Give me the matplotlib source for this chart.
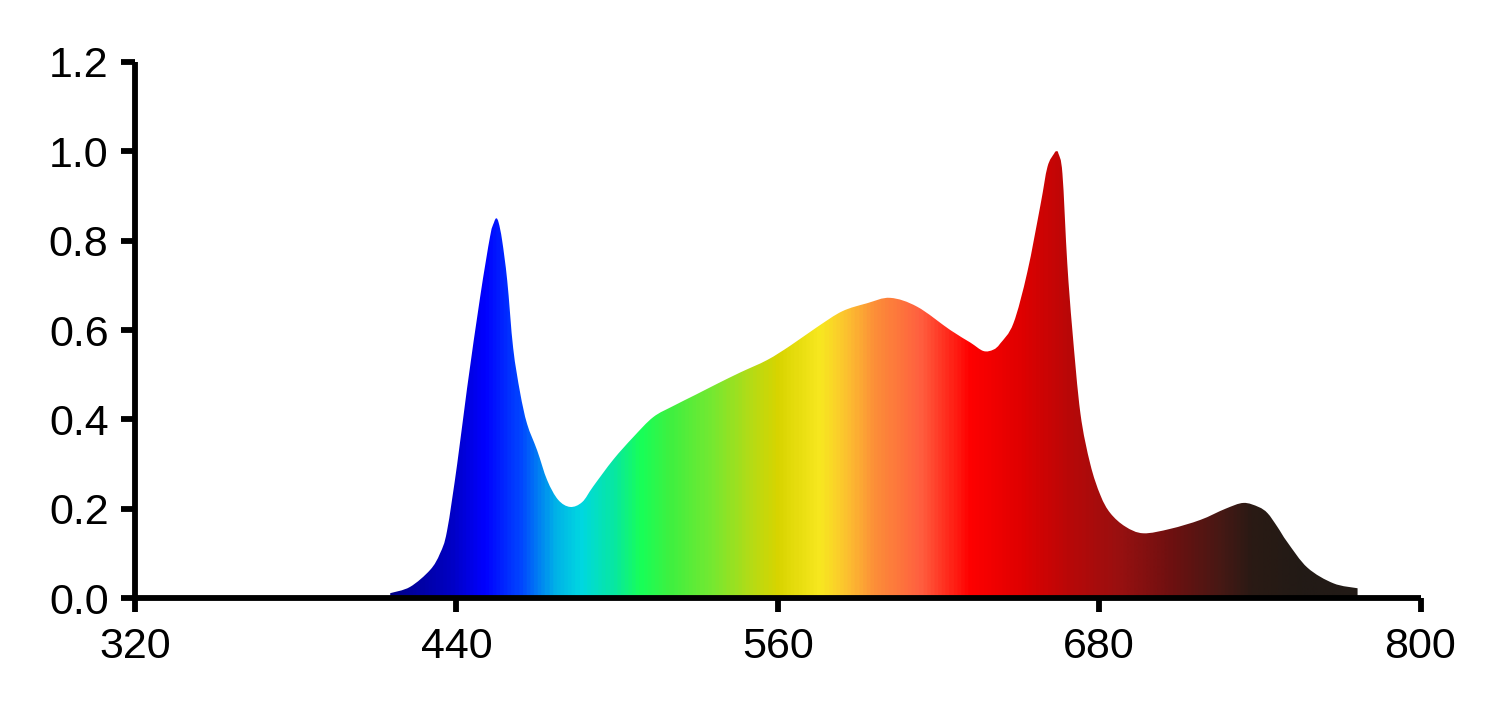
import numpy as np
import matplotlib
matplotlib.use("Agg")
import matplotlib.pyplot as plt
from matplotlib.colors import LinearSegmentedColormap
from matplotlib.path import Path
from matplotlib.patches import PathPatch

plt.rcParams["font.family"] = ["Liberation Sans", "DejaVu Sans"]

# spectrum (wavelength nm, relative intensity)
wavelength = [415.3, 422.7, 430.2, 433.9, 436.5, 440.3, 444.0, 448.9, 452.6,
              454.0, 454.9, 455.8, 457.1, 459.0, 461.2, 463.8, 466.4, 470.2,
              473.9, 478.0, 482.5, 487.0, 491.1, 498.6, 506.0, 513.5, 521.0,
              529.3, 537.5, 546.0, 556.1, 564.7, 574.8, 584.1, 593.4, 602.0,
              612.1, 624.4, 631.9, 636.8, 640.5, 643.1, 648.0, 653.2, 658.1,
              660.7, 663.2, 664.0, 664.8, 666.3, 668.1, 670.0, 673.0, 676.7,
              680.5, 684.2, 689.8, 696.5, 706.6, 717.8, 727.2, 733.9, 739.5,
              742.9, 746.5, 750.3, 757.8, 767.5, 776.5]
intensity = [0.011, 0.025, 0.063, 0.10, 0.15, 0.30, 0.47, 0.675, 0.81,
             0.84, 0.85, 0.84, 0.80, 0.71, 0.56, 0.46, 0.39, 0.33,
             0.264, 0.22, 0.204, 0.215, 0.25, 0.31, 0.36, 0.405, 0.43,
             0.455, 0.48, 0.505, 0.533, 0.565, 0.607, 0.642, 0.66, 0.672,
             0.652, 0.60, 0.572, 0.553, 0.556, 0.57, 0.615, 0.73, 0.88,
             0.965, 0.995, 1.0, 0.995, 0.95, 0.75, 0.60, 0.414, 0.30,
             0.23, 0.19, 0.16, 0.145, 0.155, 0.175, 0.200, 0.213, 0.204,
             0.19, 0.16, 0.125, 0.068, 0.033, 0.022]

# colour stops along wavelength
stop_nm = [415.3, 436.5, 450.0, 463.8, 476.1, 486.2, 498.6, 508.6, 519.9,
           535.9, 548.6, 559.8, 575.9, 586.0, 595.7, 613.2, 631.9, 650.6,
           669.3, 688.0, 706.6, 725.3, 737.6, 756.3, 776.5]
stop_col = ["#00008a", "#0000c0", "#0000ff", "#0048ff", "#00b0e8", "#00d8e0",
            "#08e8a0", "#18ff58", "#40f040", "#78e830", "#b0dc18", "#d8d400",
            "#f8e820", "#fcc030", "#fc9038", "#ff6040", "#ff0000", "#e00000",
            "#b80808", "#981010", "#701010", "#481814", "#2a1a14", "#221a16",
            "#221a16"]

xticks = [320, 440, 560, 680, 800]
yticks = [0.0, 0.2, 0.4, 0.6, 0.8, 1.0, 1.2]


def smooth_area_path(xs, ys):
    # bezier segments through the read points, closed along y = 0
    pts = np.column_stack([xs, ys])
    verts = [(xs[0], 0.0), tuple(pts[0])]
    codes = [Path.MOVETO, Path.LINETO]
    n = len(pts)
    for i in range(n - 1):
        p0 = pts[max(i - 1, 0)]
        p1 = pts[i]
        p2 = pts[i + 1]
        p3 = pts[min(i + 2, n - 1)]
        c1 = p1 + (p2 - p0) / 6.0
        c2 = p2 - (p3 - p1) / 6.0
        verts += [tuple(c1), tuple(c2), tuple(p2)]
        codes += [Path.CURVE4] * 3
    verts += [(xs[-1], 0.0), (xs[0], 0.0)]
    codes += [Path.LINETO, Path.CLOSEPOLY]
    return Path(verts, codes)


lo, hi = stop_nm[0], stop_nm[-1]
cmap = LinearSegmentedColormap.from_list(
    "spec", [((n - lo) / (hi - lo), c) for n, c in zip(stop_nm, stop_col)])

fig = plt.figure(figsize=(15, 7.12), dpi=100)
ax = fig.add_axes([0.09, 0.16, 0.857, 0.753])

area = PathPatch(smooth_area_path(wavelength, intensity), facecolor="none",
                 edgecolor="none", transform=ax.transData)
ax.add_patch(area)
grad = np.linspace(lo, hi, 800).reshape(1, -1)
img = ax.imshow(grad, cmap=cmap, aspect="auto", origin="lower",
                extent=[lo, hi, 0, 1.05], interpolation="bilinear",
                zorder=1)
img.set_clip_path(area)

ax.set_xlim(320, 800)
ax.set_ylim(0, 1.2)
ax.set_xticks(xticks)
ax.set_yticks(yticks)
ax.set_yticklabels([f"{v:.1f}" for v in yticks])

for s in ["top", "right"]:
    ax.spines[s].set_visible(False)
for s in ["left", "bottom"]:
    ax.spines[s].set_linewidth(4.2)
    ax.spines[s].set_zorder(3)
    ax.spines[s].set_capstyle("butt")
ax.tick_params(width=4.2, length=10, labelsize=31, direction="out")
ax.tick_params(axis="y", pad=9)
ax.tick_params(axis="x", pad=11)

fig.savefig("out.png", dpi=100, facecolor="white")
